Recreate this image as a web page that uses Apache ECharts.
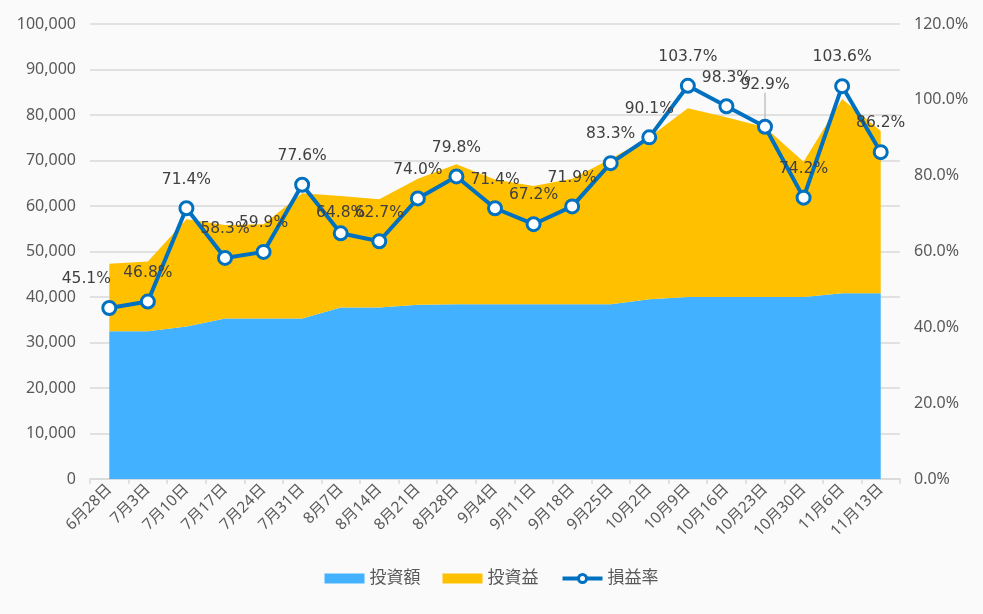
<!DOCTYPE html>
<html>
<head>
<meta charset="utf-8">
<script src="https://cdn.jsdelivr.net/npm/echarts@6/dist/echarts.min.js"></script>
<style>
html,body{margin:0;padding:0;background:#fafafa;}
#chart{width:983px;height:614px;}
</style>
</head>
<body>
<div id="chart"></div>
<script>
const categories = ['6月28日','7月3日','7月10日','7月17日','7月24日','7月31日','8月7日','8月14日','8月21日','8月28日','9月4日','9月11日','9月18日','9月25日','10月2日','10月9日','10月16日','10月23日','10月30日','11月6日','11月13日'];
const investAmount = [32500,32500,33500,35300,35300,35300,37700,37700,38300,38400,38400,38400,38400,38400,39500,40000,40000,40000,40000,40800,40800];
const investProfit = [14800,15300,23600,20500,20700,27500,24500,23800,27700,30800,27400,26000,27600,32000,35600,41500,39500,37300,29700,42700,35700];
const profitRate = [45.1,46.8,71.4,58.3,59.9,77.6,64.8,62.7,74.0,79.8,71.4,67.2,71.9,83.3,90.1,103.7,98.3,92.9,74.2,103.6,86.2];
const seriesNames = ['投資額','投資益','損益率'];

const axisFont = '"Noto Sans", "Noto Sans CJK JP", sans-serif';
const labelFont = '"DejaVu Sans", "Noto Sans CJK JP", sans-serif';

const labelShift = {0:{dx:-23,dy:0}, 6:{dx:0,dy:8}, 17:{dx:0,dy:-13}};
const leaderIndex = 17;

const rateData = profitRate.map((v,i)=> i===leaderIndex
  ? {value:v, labelLine:{show:true,lineStyle:{color:'#a6a6a6',width:1}}}
  : {value:v});

const chart = echarts.init(document.getElementById('chart'), null, {renderer:'canvas'});
chart.setOption({
  backgroundColor:'#fafafa',
  animation:false,
  grid:{left:90,right:83,top:24,bottom:135,containLabel:false},
  legend:{
    bottom:22,left:'center',
    itemWidth:40,itemHeight:10,itemGap:22,
    textStyle:{color:'#595959',fontSize:17,fontFamily:axisFont},
    data:[{name:seriesNames[0],icon:'rect'},{name:seriesNames[1],icon:'rect'},
          {name:seriesNames[2],lineStyle:{width:4},itemStyle:{borderWidth:3}}]
  },
  xAxis:{
    type:'category',data:categories,boundaryGap:true,
    axisLine:{lineStyle:{color:'#d9d9d9',width:1.5}},
    axisTick:{show:true,length:5,lineStyle:{color:'#d9d9d9',width:1.5}},
    axisLabel:{rotate:45,color:'#595959',fontSize:15.5,fontFamily:axisFont,interval:0,margin:8}
  },
  yAxis:[
    {type:'value',min:0,max:100000,interval:10000,
     axisLine:{show:false},axisTick:{show:false},
     splitLine:{lineStyle:{color:'#d9d9d9',width:1.5}},
     axisLabel:{color:'#595959',fontSize:16,fontFamily:axisFont,margin:14,
       formatter:v=>v.toLocaleString('en-US')}},
    {type:'value',min:0,max:120,interval:20,
     axisLine:{show:false},axisTick:{show:false},splitLine:{show:false},
     axisLabel:{color:'#595959',fontSize:16,fontFamily:axisFont,margin:14,
       formatter:v=>v.toFixed(1)+'%'}}
  ],
  series:[
    {name:seriesNames[0],type:'line',stack:'total',data:investAmount,
     symbol:'none',lineStyle:{width:0},itemStyle:{color:'#42b1ff'},
     areaStyle:{color:'#42b1ff',opacity:1},z:1},
    {name:seriesNames[1],type:'line',stack:'total',data:investProfit,
     symbol:'none',lineStyle:{width:0},itemStyle:{color:'#ffc000'},
     areaStyle:{color:'#ffc000',opacity:1},z:1},
    {name:seriesNames[2],type:'line',yAxisIndex:1,data:rateData,
     symbol:'circle',symbolSize:13,z:5,
     lineStyle:{color:'#0070c0',width:4},
     itemStyle:{color:'#ffffff',borderColor:'#0070c0',borderWidth:3},
     label:{show:true,position:'top',distance:13,color:'#404040',fontSize:15.5,fontFamily:labelFont,
       formatter:p=>p.value.toFixed(1)+'%'},
     labelLine:{show:false},
     labelLayout:function(p){
       const s = labelShift[p.dataIndex];
       if(!s) return {};
       return {dx:s.dx,dy:s.dy};
     }}
  ]
});
</script>
</body>
</html>
